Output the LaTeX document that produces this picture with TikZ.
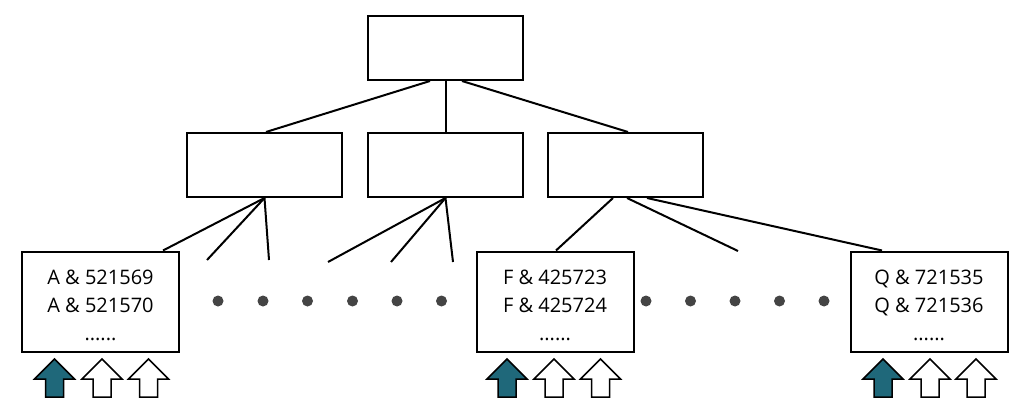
\documentclass[tikz,border=0pt]{standalone}
\usepackage{fontspec}
\setmainfont{Open Sans}
\definecolor{teal}{RGB}{31,104,122}
\definecolor{dotc}{RGB}{68,68,68}
\begin{document}
\begin{tikzpicture}[x=1pt,y=-1pt,line width=2pt,
  box/.style={draw=black,fill=white,rectangle,inner sep=0pt,minimum width=155pt,minimum height=64pt},
  leaf/.style={draw=black,fill=white,rectangle,inner sep=0pt,minimum width=157pt,minimum height=100pt},
  leaftext/.style={align=center,font=\fontsize{20}{28}\selectfont,inner sep=0pt},
  edge/.style={draw=black,line width=2pt},
  dot/.style={circle,fill=dotc,inner sep=0pt,minimum size=11pt},
  uparrow/.pic={\draw[line width=1.5pt,line join=miter,pic actions] (-9,0)--(-9,-18)--(-20,-18)--(0,-38)--(20,-18)--(9,-18)--(9,0)--cycle;}
]
\useasboundingbox (0,0) rectangle (1024,414);
\fill[white] (0,0) rectangle (1024,414);

% boxes
\node[box,minimum height=64pt] (top) at (445.5,48) {};
\node[box] (m1) at (264.5,165) {};
\node[box] (m2) at (445.5,165) {};
\node[box] (m3) at (625.5,165) {};

\node[leaf] (A) at (100.5,301.5) {};
\node[leaf] (F) at (555,301.5) {};
\node[leaf] (Q) at (929,301.5) {};

\node[leaftext] (At) at ([yshift=-4]A.center) {A \& 521569\\A \& 521570\\......};
\node[leaftext] (Ft) at ([yshift=-4]F.center) {F \& 425723\\F \& 425724\\......};
\node[leaftext] (Qt) at ([yshift=-4]Q.center) {Q \& 721535\\Q \& 721536\\......};

% free ends
\coordinate (e1) at (207,260);
\coordinate (e2) at (269,260);
\coordinate (e3) at (328,262);
\coordinate (e4) at (391,262);
\coordinate (e5) at (453,262);
\coordinate (e6) at (738,251);

% connectors top level
\draw[edge] ([xshift=-15.5]top.south) -- ([xshift=1.5]m1.north);
\draw[edge] (top.south) -- (m2.north);
\draw[edge] ([xshift=16.5]top.south) -- ([xshift=2.5]m3.north);

% connectors from m1
\draw[edge] (m1.south) -- ([xshift=62.5]A.north);
\draw[edge] (m1.south) -- (e1);
\draw[edge] (m1.south) -- (e2);
% from m2
\draw[edge] (m2.south) -- (e3);
\draw[edge] (m2.south) -- (e4);
\draw[edge] (m2.south) -- (e5);
% from m3
\draw[edge] ([xshift=-12.5]m3.south) -- ([xshift=1]F.north);
\draw[edge] ([xshift=1.5]m3.south) -- (e6);
\draw[edge] ([xshift=21.5]m3.south) -- ([xshift=-47]Q.north);

% dots
\foreach \x [count=\i] in {218,263,307.5,352.5,397,441.5} \node[dot] (dl\i) at (\x,301) {};
\foreach \x [count=\i] in {646,690.5,735,779.5,824} \node[dot] (dr\i) at (\x,301) {};

% arrows
\foreach \cx/\fc in {54.5/teal,102/white,148.5/white,507/teal,554/white,600.5/white,883/teal,930/white,976/white}
  \pic[draw=black,fill=\fc] at (\cx,397) {uparrow};
\end{tikzpicture}
\end{document}
